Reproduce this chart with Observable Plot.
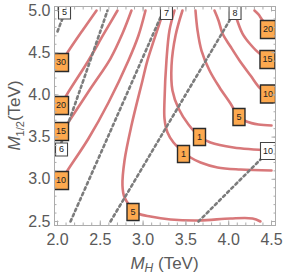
<!DOCTYPE html>
<html><head><meta charset="utf-8">
<script src="https://cdn.jsdelivr.net/npm/d3@7"></script>
<script src="https://cdn.jsdelivr.net/npm/@observablehq/plot@0.6"></script>
<style>body{margin:0;background:#fff} svg{display:block}</style>
</head><body><div id="chart"></div>
<script>
// tick labels
const xTicks = [2.0, 2.5, 3.0, 3.5, 4.0, 4.5];
const yTicks = [2.5, 3.0, 3.5, 4.0, 4.5, 5.0];

// red (solid) contours: [M_H, M_1/2]
const red30 = [[2.0,4.313],[2.117,4.502],[2.292,4.763],[2.456,5.0]];
const red20 = [[2.0,3.815],[2.117,4.017],[2.362,4.408],[2.537,4.716],[2.701,5.0]];
const red15 = [[2.0,3.483],[2.117,3.661],[2.386,4.076],[2.619,4.431],[2.759,4.727],[2.864,5.0]];
const red10a = [[2.0,2.915],[2.117,3.104],[2.362,3.483],[2.596,3.910],[2.829,4.408],[2.946,4.704],[3.028,5.0]];
const red5a = [[3.238,5.0],[3.203,4.882],[3.051,4.408],[2.993,4.171],[2.864,3.637],[2.783,3.223],[2.759,2.927],[2.783,2.784],[2.853,2.678],[2.946,2.595],[3.086,2.559],[3.320,2.524],[3.659,2.512],[4.021,2.536],[4.278,2.536],[4.371,2.5]];
const red1a = [[3.367,5.0],[3.308,4.763],[3.273,4.408],[3.250,3.934],[3.250,3.720],[3.285,3.555],[3.355,3.436],[3.437,3.353],[3.554,3.258],[3.671,3.199],[3.869,3.140],[4.138,3.116],[4.5,3.104]];
const red1b = [[3.460,5.0],[3.379,4.704],[3.332,4.348],[3.343,4.052],[3.414,3.839],[3.530,3.649],[3.659,3.507],[3.787,3.436],[4.056,3.377],[4.5,3.341]];
const red5b = [[3.612,5.0],[3.636,4.763],[3.682,4.526],[3.776,4.289],[3.893,4.088],[4.021,3.898],[4.115,3.744],[4.208,3.685],[4.348,3.649],[4.5,3.637]];
const red10b = [[3.834,5.0],[3.881,4.882],[3.928,4.727],[4.021,4.573],[4.126,4.408],[4.255,4.230],[4.371,4.076],[4.5,4.005]];
const red15b = [[4.056,5.0],[4.091,4.905],[4.161,4.727],[4.255,4.597],[4.360,4.491],[4.5,4.419]];
const red20b = [[4.301,5.0],[4.348,4.953],[4.407,4.870],[4.5,4.799]];

// gray (dotted) contours
const dot5 = [[2.0,4.751],[2.093,5.0]];
const dot6 = [[2.0,3.306],[2.269,4.076],[2.584,5.0]];
const dot7 = [[2.152,2.5],[2.596,3.519],[3.238,5.0]];
const dot8 = [[2.619,2.5],[4.079,5.0]];
const dot10 = [[3.647,2.5],[4.5,3.365]];

// contour labels
const redLabelX = [2.041, 2.041, 2.041, 2.041, 2.882, 3.472, 3.659, 4.120, 4.459, 4.453, 4.459];
const redLabelY = [4.384, 3.874, 3.566, 2.986, 2.613, 3.300, 3.501, 3.738, 4.011, 4.419, 4.775];
const redLabelText = ["30", "20", "15", "10", "5", "1", "1", "5", "10", "15", "20"];
const dotLabelX = [2.082, 2.047, 3.273, 4.074, 4.459];
const dotLabelY = [4.976, 3.353, 4.970, 4.970, 3.335];
const dotLabelText = ["5", "6", "7", "8", "10"];

const redSets = [red30, red20, red15, red10a, red5a, red1a, red1b, red5b, red10b, red15b, red20b];
const dotSets = [dot5, dot6, dot7, dot8, dot10];
const toRows = sets => sets.flatMap((pts, id) => pts.map(([x, y]) => ({x, y, id})));
const redRows = toRows(redSets);
const dotRows = toRows(dotSets);
const redLabels = redLabelText.map((text, i) => ({x: redLabelX[i], y: redLabelY[i], text}));
const dotLabels = dotLabelText.map((text, i) => ({x: dotLabelX[i], y: dotLabelY[i], text}));

const box = (w, h) => ({draw(ctx) { ctx.rect(-w / 2, -h / 2, w, h); }});
const xMinor = d3.range(20, 46).map(d => d / 10);
const yMinor = d3.range(25, 51).map(d => d / 10);
const gray = "#5a5a5a";
const frameC = "#acacac";
const fmt = d3.format(".1f");

const tickAxes = [];
for (const anchor of ["bottom", "top"]) {
  tickAxes.push(Plot.axisX({ticks: xMinor, anchor, tickSize: -2.5, tickFormat: () => "", stroke: frameC, label: null}));
  tickAxes.push(Plot.axisX({ticks: xTicks, anchor, tickSize: -4.5, tickFormat: () => "", stroke: frameC, label: null}));
}
for (const anchor of ["left", "right"]) {
  tickAxes.push(Plot.axisY({ticks: yMinor, anchor, tickSize: -2.5, tickFormat: () => "", stroke: frameC, label: null}));
  tickAxes.push(Plot.axisY({ticks: yTicks, anchor, tickSize: -4.5, tickFormat: () => "", stroke: frameC, label: null}));
}

const chart = Plot.plot({
  width: 284, height: 276,
  marginLeft: 54, marginRight: 9, marginTop: 6, marginBottom: 51,
  x: {domain: [2, 4.5], insetLeft: 3, insetRight: 4},
  y: {domain: [2.5, 5], insetTop: 4, insetBottom: 4},
  style: {fontFamily: "Liberation Sans, Arial, sans-serif", background: "white"},
  marks: [
    Plot.line(redRows, {x: "x", y: "y", z: "id", stroke: "#d8787a", strokeWidth: 2.6, curve: "catmull-rom", clip: true}),
    Plot.line(dotRows, {x: "x", y: "y", z: "id", stroke: "#7c7c7c", strokeWidth: 2.6, strokeDasharray: "2.6,3.2", curve: "catmull-rom", clip: true}),
    Plot.dot(redLabels, {filter: d => d.text.length === 1, x: "x", y: "y", symbol: box(12, 17), fill: "#fda94f", stroke: "#2a2a2a", strokeWidth: 1.4, clip: true}),
    Plot.dot(redLabels, {filter: d => d.text.length === 2, x: "x", y: "y", symbol: box(15, 18), fill: "#fda94f", stroke: "#2a2a2a", strokeWidth: 1.4, clip: true}),
    Plot.dot(dotLabels, {filter: d => d.text.length === 1, x: "x", y: "y", symbol: box(12, 13), fill: "white", stroke: "#444", strokeWidth: 1.1, clip: true}),
    Plot.dot(dotLabels, {filter: d => d.text.length === 2, x: "x", y: "y", symbol: box(15, 17), fill: "white", stroke: "#444", strokeWidth: 1.1, clip: true}),
    Plot.text(redLabels, {x: "x", y: "y", text: "text", fontSize: 9, fill: "#222"}),
    Plot.text(dotLabels, {x: "x", y: "y", text: "text", fontSize: 9, fill: "#222"}),
    Plot.frame({stroke: frameC}),
    ...tickAxes,
    Plot.axisX({ticks: xTicks, anchor: "bottom", tickSize: 0, tickPadding: 8, tickFormat: fmt, fontSize: 16, color: gray, label: null}),
    Plot.axisY({ticks: yTicks, anchor: "left", tickSize: 0, tickPadding: 4, tickFormat: fmt, fontSize: 16, color: gray, label: null})
  ]
});

const svg = d3.select(chart);
const xt = svg.append("text").attr("x", (54 + 275) / 2).attr("y", 269)
  .attr("text-anchor", "middle").attr("fill", gray).attr("font-size", 17)
  .attr("font-family", "Liberation Sans, Arial, sans-serif");
xt.append("tspan").attr("font-style", "italic").text("M");
xt.append("tspan").attr("font-style", "italic").attr("font-size", 12).attr("dy", 3).text("H");
xt.append("tspan").attr("dy", -3).text(" (TeV)");

const yt = svg.append("text").attr("transform", `translate(20,${(6 + 225) / 2}) rotate(-90)`)
  .attr("text-anchor", "middle").attr("fill", gray).attr("font-size", 17)
  .attr("font-family", "Liberation Sans, Arial, sans-serif");
yt.append("tspan").attr("font-style", "italic").text("M");
yt.append("tspan").attr("font-size", 11).attr("dy", 4).text("1/2");
yt.append("tspan").attr("dy", -4).text("(TeV)");

document.getElementById("chart").append(chart);
</script>
</body></html>
